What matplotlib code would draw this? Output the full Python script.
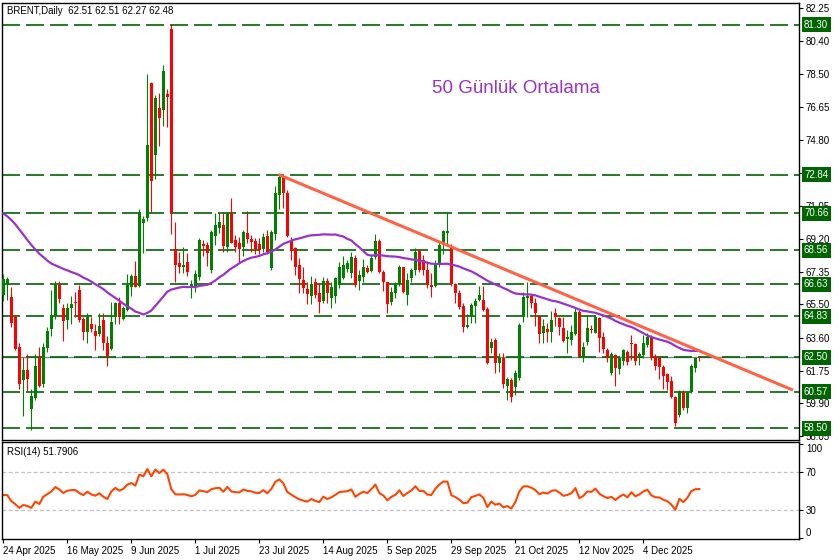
import numpy as np
import pandas as pd
import matplotlib
matplotlib.use("Agg")
import matplotlib.pyplot as plt

plt.rcParams['font.family'] = ['Liberation Sans', 'DejaVu Sans']

# ── Daily OHLC, bar 0 = 24 Apr 2025 ─────────────────────────────────────────
opens = [66.05, 66.60, 65.93, 64.77, 63.10, 61.25, 61.80, 59.60, 60.20, 62.50,
         61.00, 63.05, 64.10, 64.85, 66.60, 65.30, 64.60, 65.30, 65.65, 66.30,
         64.70, 63.96, 64.40, 64.00, 63.80, 64.60, 63.30, 62.96, 64.80, 65.55,
         64.70, 65.20, 66.50, 67.10, 66.55, 70.10, 70.40, 78.00, 73.95, 76.60,
         76.50, 77.40, 81.05, 68.63, 67.82, 67.63, 67.88, 66.46, 66.46, 67.07,
         68.91, 68.86, 67.44, 69.37, 69.80, 69.99, 68.76, 70.65, 69.14, 68.95,
         68.72, 69.52, 69.20, 69.08, 68.91, 68.63, 69.37, 67.54, 69.48, 71.68,
         72.72, 71.82, 69.14, 68.71, 67.73, 66.88, 66.35, 65.99, 66.78, 66.12,
         65.71, 66.82, 65.84, 65.99, 66.60, 66.97, 67.48, 67.29, 68.10, 66.82,
         67.06, 67.57, 67.40, 68.19, 69.08, 67.35, 66.74, 65.65, 66.12, 66.65,
         67.59, 66.03, 66.97, 67.44, 68.53, 68.00, 67.44, 66.59, 66.54, 67.78,
         68.85, 69.56, 68.76, 66.65, 66.16, 65.40, 64.23, 64.76, 65.40, 65.74,
         65.74, 65.21, 63.01, 63.48, 62.20, 62.44, 60.88, 61.22, 60.84, 61.31,
         64.76, 65.86, 65.95, 65.60, 64.84, 63.86, 64.10, 63.95, 65.03, 64.74,
         64.18, 63.52, 63.48, 63.82, 65.08, 62.45, 63.39, 64.10, 63.90, 64.71,
         63.63, 62.92, 61.64, 62.63, 61.82, 62.29, 62.82, 63.33, 63.26, 62.45,
         62.64, 63.20, 63.63, 62.50, 62.45, 61.97, 61.56, 61.16, 60.28, 59.24,
         60.51, 59.66, 60.52, 61.88, 62.51]
highs = [67.20, 67.07, 66.50, 64.90, 63.30, 62.50, 62.70, 60.70, 62.70, 63.10,
         63.30, 64.20, 66.30, 66.80, 66.80, 65.50, 65.60, 66.00, 66.20, 66.60,
         64.80, 65.00, 64.80, 64.40, 65.00, 65.00, 63.70, 65.65, 65.65, 65.90,
         65.40, 67.20, 67.20, 67.95, 70.90, 70.50, 78.50, 78.10, 77.35, 77.45,
         79.05, 77.65, 81.38, 70.18, 68.48, 68.76, 68.42, 66.88, 67.44, 69.23,
         69.14, 69.05, 69.70, 70.65, 70.65, 70.65, 70.65, 71.53, 69.42, 69.33,
         69.70, 70.78, 69.42, 69.23, 69.23, 69.55, 69.70, 69.70, 72.20, 72.82,
         72.76, 71.97, 69.33, 68.76, 68.10, 67.63, 66.78, 67.10, 66.97, 66.69,
         67.07, 67.01, 66.78, 67.07, 67.91, 68.23, 68.00, 68.48, 68.30, 67.44,
         68.06, 67.72, 68.29, 69.48, 69.18, 67.44, 66.78, 66.50, 66.78, 67.72,
         67.63, 67.25, 67.54, 68.67, 68.61, 68.29, 67.97, 67.25, 68.01, 69.04,
         69.70, 70.70, 68.91, 66.72, 66.31, 65.55, 64.93, 65.59, 65.84, 66.53,
         66.53, 65.33, 63.57, 63.57, 62.73, 62.73, 61.41, 61.31, 61.78, 64.42,
         66.20, 66.78, 66.10, 65.84, 64.90, 64.67, 64.46, 65.12, 65.27, 64.80,
         64.80, 64.05, 64.33, 65.37, 65.18, 63.39, 64.90, 64.33, 64.84, 64.80,
         63.95, 63.01, 62.82, 62.69, 62.58, 62.96, 62.92, 63.77, 63.30, 62.82,
         63.77, 63.90, 63.77, 62.69, 62.58, 62.07, 61.64, 61.45, 60.32, 60.66,
         60.66, 60.56, 62.10, 62.50, 62.51]
lows = [65.70, 65.75, 64.20, 62.90, 60.70, 59.20, 60.60, 58.40, 60.10, 60.80,
        60.85, 62.80, 63.70, 64.65, 65.60, 63.40, 64.10, 64.40, 64.80, 64.50,
        63.50, 63.30, 63.96, 62.90, 63.70, 62.90, 62.00, 62.90, 64.40, 64.40,
        64.60, 65.10, 66.00, 66.50, 66.50, 68.40, 70.20, 70.70, 72.60, 74.45,
        75.60, 75.55, 69.50, 66.78, 67.25, 67.25, 67.10, 65.88, 66.22, 66.88,
        68.24, 67.67, 67.29, 68.86, 69.52, 68.48, 68.48, 68.95, 68.48, 67.91,
        68.23, 68.99, 68.48, 68.35, 68.35, 68.48, 68.35, 67.44, 69.14, 70.87,
        70.93, 69.29, 68.01, 67.16, 66.16, 66.16, 65.50, 65.50, 65.84, 64.99,
        65.56, 65.60, 65.27, 65.56, 66.41, 66.93, 67.35, 66.97, 66.50, 66.31,
        66.78, 67.25, 67.35, 68.04, 67.29, 66.25, 65.03, 65.46, 65.84, 66.54,
        66.16, 65.46, 66.78, 67.16, 67.35, 67.16, 66.40, 65.89, 66.50, 67.63,
        68.34, 68.91, 66.55, 65.59, 65.23, 63.95, 64.14, 64.42, 64.46, 65.71,
        65.14, 62.15, 62.73, 61.60, 61.69, 60.75, 60.09, 60.00, 60.37, 61.22,
        64.50, 64.80, 65.30, 64.27, 63.30, 63.33, 63.39, 63.39, 64.27, 63.77,
        63.39, 62.77, 63.20, 63.77, 62.54, 62.26, 63.20, 63.86, 63.86, 62.82,
        62.73, 62.26, 61.50, 60.88, 61.56, 62.07, 62.07, 62.35, 62.07, 62.07,
        62.45, 63.10, 62.35, 61.79, 61.26, 60.70, 60.66, 60.18, 58.62, 59.15,
        59.52, 59.34, 60.47, 61.69, 62.27]
closes = [66.95, 66.92, 64.46, 63.00, 61.00, 61.80, 61.30, 60.30, 62.00, 60.90,
          63.10, 64.00, 64.90, 66.60, 65.80, 64.55, 65.30, 65.50, 65.55, 64.60,
          63.96, 64.90, 64.10, 63.70, 64.30, 63.30, 62.60, 64.50, 65.55, 64.80,
          65.30, 66.60, 67.10, 66.50, 70.75, 70.35, 74.50, 72.50, 77.15, 76.05,
          78.70, 77.20, 70.67, 67.73, 67.59, 67.73, 67.35, 66.63, 67.22, 69.14,
          68.80, 68.42, 69.61, 69.99, 70.18, 68.80, 70.65, 68.99, 68.76, 68.63,
          69.61, 69.18, 69.03, 68.63, 68.57, 69.29, 68.48, 69.61, 71.82, 72.72,
          71.78, 69.37, 68.54, 67.63, 66.91, 66.41, 66.07, 66.65, 66.03, 65.65,
          66.82, 66.12, 66.50, 67.01, 67.63, 67.73, 67.82, 68.16, 66.60, 67.16,
          67.59, 67.31, 68.10, 69.08, 67.35, 66.78, 65.52, 66.21, 66.59, 67.59,
          66.21, 66.87, 67.44, 68.48, 67.44, 67.44, 66.59, 66.50, 67.82, 68.85,
          69.65, 69.65, 66.65, 66.12, 65.37, 64.23, 64.33, 65.46, 65.71, 66.02,
          65.18, 62.20, 63.35, 62.20, 62.44, 61.00, 61.26, 60.28, 61.60, 64.33,
          65.93, 65.99, 65.60, 64.99, 63.80, 64.27, 63.95, 64.61, 64.80, 64.24,
          63.43, 63.63, 63.95, 65.08, 62.58, 63.11, 64.14, 64.03, 64.80, 63.58,
          62.95, 62.45, 62.69, 61.88, 62.48, 62.92, 62.26, 63.26, 62.32, 62.69,
          63.30, 63.63, 62.45, 62.01, 61.97, 61.45, 61.13, 60.28, 58.77, 60.62,
          59.66, 60.51, 62.01, 62.45, 62.48]

# closes before the first visible bar (needed by the 50-day average and RSI)
prior_closes = [75.02, 74.74, 75.22, 75.84, 76.04, 76.48, 74.43, 74.78, 73.02, 72.53,
                74.04, 73.18, 71.62, 71.04, 69.30, 69.46, 70.36, 69.28, 69.56, 70.95,
                69.88, 70.58, 71.07, 70.56, 70.78, 72.00, 72.16, 73.00, 73.02, 73.79,
                74.03, 73.63, 74.74, 74.49, 74.95, 70.14, 65.58, 64.21, 62.82, 65.48,
                63.33, 64.76, 64.88, 64.67, 65.85, 67.96, 66.26, 67.44, 66.12]

date_pos = [0, 16, 32, 48, 64, 80, 96, 112, 128, 144, 160]
date_labels = ["24 Apr 2025", "16 May 2025", "9 Jun 2025", "1 Jul 2025", "23 Jul 2025",
               "14 Aug 2025", "5 Sep 2025", "29 Sep 2025", "21 Oct 2025", "12 Nov 2025",
               "4 Dec 2025"]

levels = [81.30, 72.84, 70.66, 68.56, 66.63, 64.83, 62.50, 60.57, 58.50]
price_ticks = [82.25, 80.40, 78.50, 76.65, 74.80, 72.95, 71.05, 69.20, 67.35,
               65.50, 63.60, 61.75, 59.90, 58.05]
hidden_ticks = [72.95]          # fully covered by the 72.84 label in the chart
trend_x = [68.8, 197.4]
trend_y = [72.84, 60.65]

# ── indicators ───────────────────────────────────────────────────────────────
all_close = pd.Series(prior_closes + closes)
ma50 = all_close.rolling(50).mean().iloc[len(prior_closes):].to_numpy()
delta = all_close.diff()
gain = delta.clip(lower=0).ewm(alpha=1/14, adjust=False).mean()
loss = (-delta.clip(upper=0)).ewm(alpha=1/14, adjust=False).mean()
rsi = (100 - 100 / (1 + gain / loss)).iloc[len(prior_closes):].to_numpy()

o = np.array(opens); h = np.array(highs); l = np.array(lows); c = np.array(closes)
x = np.arange(len(c))

# ── figure ───────────────────────────────────────────────────────────────────
W, H = 839, 560
fig = plt.figure(figsize=(W / 100, H / 100), dpi=100, facecolor="white")
ax = fig.add_axes([2 / W, 120 / H, 797 / W, 437 / H])
axr = fig.add_axes([2 / W, 21 / H, 797 / W, 97 / H])

GREEN = "#008000"
RED = "#FF0000"
LVL = "#006400"

xlim = (-0.33, 198.9)
for a in (ax, axr):
    a.set_xlim(*xlim)
    for s in a.spines.values():
        s.set_color("black")
        s.set_linewidth(1.0)

ax.set_ylim(57.83, 82.54)

# levels
ax.axhline(62.50, color="#778899", lw=1.0, zorder=1)
for p in levels:
    ax.axhline(p, color=LVL, lw=1.2, linestyle=(0, (10.8, 3.6)), zorder=1.2)

# candles
up = c >= o
cols = np.where(up, GREEN, RED)
ax.vlines(x, l, h, colors=cols, lw=0.8, zorder=3)
body = np.maximum(np.abs(c - o), 0.05)
ax.bar(x, body, bottom=np.minimum(o, c), width=0.72, color=cols, linewidth=0, zorder=3)

# moving average and trend line
ax.plot(x, ma50, color="#9932CC", lw=1.6, zorder=4)
ax.plot(trend_x, trend_y, color="#FF6347", lw=2.2, zorder=5, solid_capstyle="butt")

ax.set_xticks([])
ax.yaxis.tick_right()
ax.set_yticks(price_ticks)
ax.set_yticklabels(["" if v in hidden_ticks else f"{v:.2f}" for v in price_ticks])
ax.tick_params(axis="y", direction="out", length=3, width=0.8, pad=2, labelsize=7)

ytr = ax.get_yaxis_transform()
for p in levels:
    ax.text(1 + 5 / 797, p, f"{p:.2f}", transform=ytr, ha="left", va="center",
            fontsize=7, color="white", clip_on=False, zorder=10,
            bbox=dict(boxstyle="square,pad=0.25", fc=LVL, ec="none"))

ax.text(5 / 797, 1 - 8 / 437, "BRENT,Daily  62.51 62.51 62.27 62.48", transform=ax.transAxes,
        ha="left", va="center", fontsize=7, color="black")
ax.text(107.2, 77.68, "50 Günlük Ortalama", ha="left", va="center",
        fontsize=13.5, color="#9932CC")

# RSI panel
axr.set_ylim(-0.8, 102.1)
for lv in (70, 30):
    axr.axhline(lv, color="#C0C0C0", lw=0.9, linestyle=(0, (3, 2)))
axr.plot(x, rsi, color="#FF4500", lw=1.5)
axr.yaxis.tick_right()
axr.set_yticks([100, 70, 30, 0])
axr.set_yticklabels(["100", "70", "30", "0"])
axr.tick_params(axis="y", direction="out", length=3, width=0.8, pad=2, labelsize=7)
tl = axr.get_yticklabels()
tl[0].set_va("top")
tl[3].set_va("bottom")
axr.set_xticks(date_pos)
axr.set_xticklabels(date_labels, ha="left")
axr.tick_params(axis="x", direction="out", length=3, width=0.8, pad=2, labelsize=7)
axr.text(5 / 797, 1 - 10 / 97, "RSI(14) 51.7906", transform=axr.transAxes,
         ha="left", va="center", fontsize=7, color="black")

fig.savefig("out.png", dpi=100, facecolor="white")
